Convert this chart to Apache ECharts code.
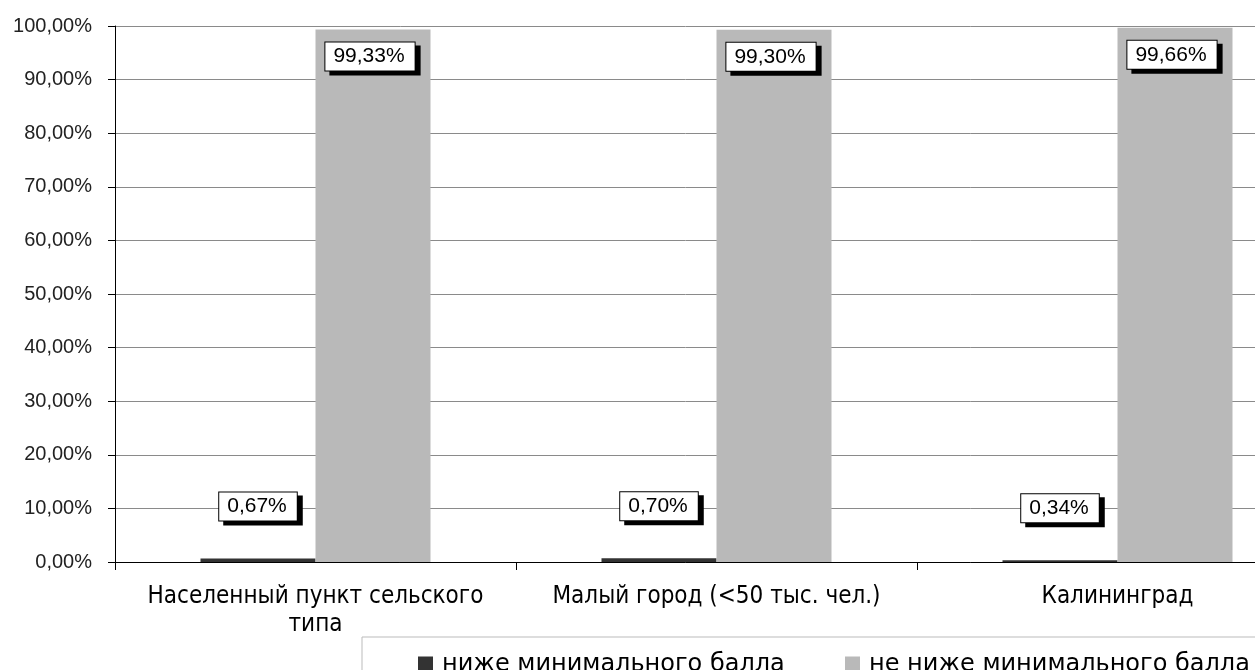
<!DOCTYPE html>
<html>
<head>
<meta charset="utf-8">
<script src="https://cdn.jsdelivr.net/npm/echarts@6/dist/echarts.min.js"></script>
<style>
  html, body { margin: 0; padding: 0; background: #fff; }
  #chart { width: 1255px; height: 670px; }
</style>
</head>
<body>
<div id="chart"></div>
<script>
  // data
  const categories = ['Населенный пункт сельского\nтипа', 'Малый город (<50 тыс. чел.)', 'Калининград'];
  const belowMin = [0.67, 0.70, 0.34];
  const notBelowMin = [99.33, 99.30, 99.66];
  const seriesNames = ['ниже минимального балла', 'не ниже минимального балла'];

  const pct = (v) => Number(v).toFixed(2).replace('.', ',') + '%';

  const boxLabel = {
    show: true,
    formatter: (p) => pct(p.value),
    fontFamily: 'Liberation Sans',
    fontSize: 21,
    lineHeight: 22,
    color: '#000',
    backgroundColor: '#fff',
    borderColor: '#000',
    borderWidth: 1,
    padding: [3, 10, 3, 8],
    shadowColor: '#000',
    shadowBlur: 0,
    shadowOffsetX: 5,
    shadowOffsetY: 4,
  };

  const legendText = {
    fontFamily: 'DejaVu Sans',
    fontSize: 24,
    color: '#000',
    padding: [0, 0, 0, 4],
  };

  const chart = echarts.init(document.getElementById('chart'));
  chart.setOption({
    animation: false,
    backgroundColor: '#fff',
    grid: {
      left: 115,
      right: -63,
      top: 26,
      bottom: 108,
      containLabel: false,
      outerBoundsMode: 'none',
    },
    legend: [
      {
        data: [seriesNames[0]],
        left: 362,
        top: 637,
        borderColor: '#bbb',
        borderWidth: 1,
        padding: [16, 700, 20, 56],
        itemWidth: 15,
        itemHeight: 17,
        icon: 'rect',
        textStyle: legendText,
      },
      {
        data: [seriesNames[1]],
        left: 845,
        top: 653,
        padding: 0,
        itemWidth: 15,
        itemHeight: 17,
        icon: 'rect',
        textStyle: legendText,
      },
    ],
    xAxis: {
      type: 'category',
      data: categories,
      axisLine: { lineStyle: { color: '#000', width: 1 } },
      axisTick: { show: true, length: 8, lineStyle: { color: '#000' } },
      axisLabel: {
        margin: 21,
        fontFamily: 'DejaVu Sans Condensed',
        fontSize: 24,
        lineHeight: 28,
        color: '#000',
        interval: 0,
      },
    },
    yAxis: {
      type: 'value',
      min: 0,
      max: 100,
      interval: 10,
      axisLine: { show: true, lineStyle: { color: '#000', width: 1 } },
      axisTick: { show: true, length: 7, lineStyle: { color: '#000' } },
      splitLine: { lineStyle: { color: '#8a8a8a', width: 1 } },
      axisLabel: {
        margin: 23,
        fontFamily: 'Liberation Sans',
        fontSize: 20,
        color: '#222',
        formatter: (v) => pct(v),
      },
    },
    series: [
      {
        name: seriesNames[0],
        type: 'bar',
        data: belowMin,
        barWidth: 115,
        barGap: '0%',
        itemStyle: { color: '#333333' },
        label: Object.assign({}, boxLabel, { position: 'top', distance: 38 }),
      },
      {
        name: seriesNames[1],
        type: 'bar',
        data: notBelowMin,
        barWidth: 115,
        barGap: '0%',
        itemStyle: { color: '#b9b9b9' },
        label: Object.assign({}, boxLabel, { position: 'insideTop', distance: 13, offset: [-3, 0] }),
      },
    ],
  });
</script>
</body>
</html>
